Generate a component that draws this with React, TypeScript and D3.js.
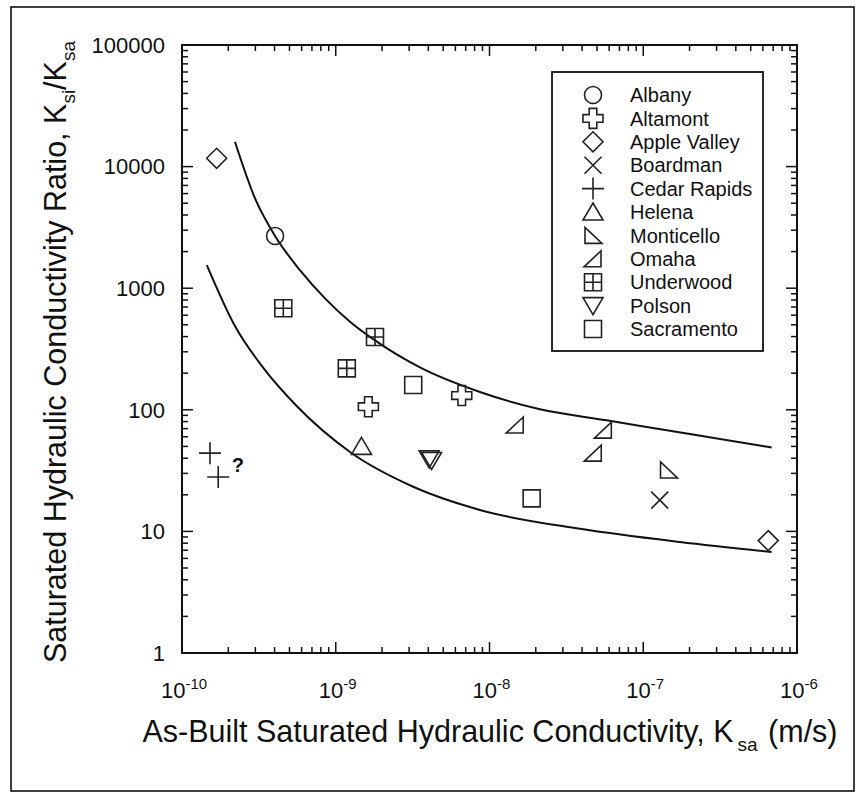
import React, { useEffect, useRef } from "react";
import * as d3 from "d3";

// ---- data ----
const siteNames = ["Albany", "Altamont", "Apple Valley", "Boardman", "Cedar Rapids", "Helena", "Monticello", "Omaha", "Underwood", "Polson", "Sacramento"];
const siteSymbols = ["circle", "fatcross", "diamond", "x", "plus", "triUp", "triRightAngleLeft", "triRightAngleRight", "gridSquare", "triDown", "square"];

const pointSite = ["Albany", "Altamont", "Altamont", "Apple Valley", "Apple Valley", "Boardman", "Cedar Rapids", "Cedar Rapids", "Helena", "Monticello", "Omaha", "Omaha", "Omaha", "Underwood", "Underwood", "Underwood", "Polson", "Polson", "Sacramento", "Sacramento"];
const pointKsa = [4.03e-10, 1.63e-9, 6.6e-9, 1.68e-10, 6.5e-7, 1.28e-7, 1.52e-10, 1.72e-10, 1.47e-9, 1.46e-7, 1.47e-8, 5.5e-8, 4.73e-8, 4.56e-10, 1.8e-9, 1.18e-9, 4.05e-9, 4.2e-9, 3.19e-9, 1.88e-8];
const pointRatio = [2690, 106, 131, 11700, 8.4, 18.1, 44, 28, 50, 32, 75, 68, 44, 684, 397, 219, 39.5, 38.3, 160, 18.7];

const upperKsa = [2.21e-10, 2.99e-10, 4.03e-10, 5.85e-10, 8.51e-10, 1.238e-9, 1.8e-9, 3.53e-9, 8.67e-9, 2.13e-8, 5.78e-8, 2.01e-7, 6.84e-7];
const upperRatio = [16000, 5445, 2690, 1406, 824, 530, 372, 223, 140, 101, 82, 63.2, 49];
const lowerKsa = [1.45e-10, 2.21e-10, 3.38e-10, 5.57e-10, 1.238e-9, 3.19e-9, 8.67e-9, 3.88e-8, 1.73e-7, 6.84e-7];
const lowerRatio = [1550, 489, 221, 107.5, 45, 23.3, 15, 10.5, 8.18, 6.78];

const xTickExp = [-10, -9, -8, -7, -6];
const yTickValues = [1, 10, 100, 1000, 10000, 100000];
const questionMark = { k: 2.31e-10, r: 31, text: "?" };

const W = 865, H = 804;
const L = 182, R = 797, T = 45, B = 653;
const FONT = "Arial, 'Liberation Sans', Helvetica, sans-serif";

function symbolPath(type: string, cx: number, cy: number): string {
  const p = d3.path();
  switch (type) {
    case "circle":
      p.moveTo(cx + 8.5, cy); p.arc(cx, cy, 8.5, 0, Math.PI * 2); break;
    case "fatcross": {
      const a = 10, b = 3.8;
      p.moveTo(cx - b, cy - a); p.lineTo(cx + b, cy - a); p.lineTo(cx + b, cy - b); p.lineTo(cx + a, cy - b);
      p.lineTo(cx + a, cy + b); p.lineTo(cx + b, cy + b); p.lineTo(cx + b, cy + a); p.lineTo(cx - b, cy + a);
      p.lineTo(cx - b, cy + b); p.lineTo(cx - a, cy + b); p.lineTo(cx - a, cy - b); p.lineTo(cx - b, cy - b); p.closePath();
      break;
    }
    case "diamond":
      p.moveTo(cx, cy - 10); p.lineTo(cx + 10, cy); p.lineTo(cx, cy + 10); p.lineTo(cx - 10, cy); p.closePath(); break;
    case "x":
      p.moveTo(cx - 8.5, cy - 8.5); p.lineTo(cx + 8.5, cy + 8.5); p.moveTo(cx + 8.5, cy - 8.5); p.lineTo(cx - 8.5, cy + 8.5); break;
    case "plus":
      p.moveTo(cx - 11, cy); p.lineTo(cx + 11, cy); p.moveTo(cx, cy - 11); p.lineTo(cx, cy + 11); break;
    case "triUp":
      p.moveTo(cx, cy - 9); p.lineTo(cx + 10, cy + 8); p.lineTo(cx - 10, cy + 8); p.closePath(); break;
    case "triDown":
      p.moveTo(cx - 10, cy - 8); p.lineTo(cx + 10, cy - 8); p.lineTo(cx, cy + 9); p.closePath(); break;
    case "triRightAngleLeft":
      p.moveTo(cx - 8, cy - 8); p.lineTo(cx - 8, cy + 8); p.lineTo(cx + 9, cy + 8); p.closePath(); break;
    case "triRightAngleRight":
      p.moveTo(cx + 8, cy - 8); p.lineTo(cx + 8, cy + 8); p.lineTo(cx - 9, cy + 8); p.closePath(); break;
    case "square":
      p.rect(cx - 8.5, cy - 8.5, 17, 17); break;
    case "gridSquare":
      p.rect(cx - 8.5, cy - 8.5, 17, 17);
      p.moveTo(cx, cy - 8.5); p.lineTo(cx, cy + 8.5); p.moveTo(cx - 8.5, cy); p.lineTo(cx + 8.5, cy);
      break;
  }
  return p.toString();
}

export default function App() {
  const ref = useRef<SVGSVGElement>(null);
  useEffect(() => {
    const svg = d3.select(ref.current);
    svg.selectAll("*").remove();
    const x = d3.scaleLog().domain([1e-10, 1e-6]).range([L, R]);
    const y = d3.scaleLog().domain([1, 100000]).range([B, T]);

    svg.append("rect").attr("width", W).attr("height", H).attr("fill", "#fff");
    svg.append("rect").attr("x", 11).attr("y", 7).attr("width", 843).attr("height", 784)
      .attr("fill", "none").attr("stroke", "#000").attr("stroke-width", 1.5);

    const g = svg.append("g");
    // ticks
    const tickG = g.append("g").attr("stroke", "#111").attr("stroke-width", 1.5);
    for (let e = -10; e < -6; e++) {
      for (let m = 2; m <= 9; m++) {
        const px = x(m * Math.pow(10, e));
        tickG.append("line").attr("x1", px).attr("x2", px).attr("y1", B).attr("y2", B - 6);
        tickG.append("line").attr("x1", px).attr("x2", px).attr("y1", T).attr("y2", T + 6);
      }
    }
    xTickExp.forEach(e => {
      const px = x(Math.pow(10, e));
      tickG.append("line").attr("x1", px).attr("x2", px).attr("y1", B).attr("y2", B - 11);
      tickG.append("line").attr("x1", px).attr("x2", px).attr("y1", T).attr("y2", T + 11);
    });
    for (let e = 0; e < 5; e++) {
      for (let m = 2; m <= 9; m++) {
        const py = y(m * Math.pow(10, e));
        tickG.append("line").attr("x1", L).attr("x2", L + 6).attr("y1", py).attr("y2", py);
        tickG.append("line").attr("x1", R).attr("x2", R - 6).attr("y1", py).attr("y2", py);
      }
    }
    yTickValues.forEach(v => {
      const py = y(v);
      tickG.append("line").attr("x1", L).attr("x2", L + 11).attr("y1", py).attr("y2", py);
      tickG.append("line").attr("x1", R).attr("x2", R - 11).attr("y1", py).attr("y2", py);
    });
    g.append("rect").attr("x", L).attr("y", T).attr("width", R - L).attr("height", B - T)
      .attr("fill", "none").attr("stroke", "#111").attr("stroke-width", 2);

    // tick labels
    xTickExp.forEach(e => {
      const t = g.append("text").attr("x", x(Math.pow(10, e)) + 2).attr("y", 698)
        .attr("text-anchor", "middle").attr("font-family", FONT).attr("font-size", 22).attr("fill", "#111");
      t.append("tspan").text("10");
      t.append("tspan").attr("font-size", 15).attr("dy", -9).text(String(e));
    });
    yTickValues.forEach(v => {
      g.append("text").attr("x", 165).attr("y", y(v)).attr("dy", "0.35em")
        .attr("text-anchor", "end").attr("font-family", FONT).attr("font-size", 22).attr("fill", "#111").text(String(v));
    });

    // axis titles
    const xt = g.append("text").attr("x", 490).attr("y", 742).attr("text-anchor", "middle")
      .attr("font-family", FONT).attr("font-size", 30.5).attr("fill", "#111");
    xt.append("tspan").text("As-Built Saturated Hydraulic Conductivity, K");
    xt.append("tspan").attr("font-size", 19).attr("dx", 4).attr("dy", 9).text("sa");
    xt.append("tspan").attr("dx", 2).attr("dy", -9).text(" (m/s)");

    const yt = g.append("text").attr("transform", `translate(66,352) rotate(-90)`)
      .attr("text-anchor", "middle").attr("font-family", FONT).attr("font-size", 30.5).attr("fill", "#111");
    yt.append("tspan").text("Saturated Hydraulic Conductivity Ratio, K");
    yt.append("tspan").attr("font-size", 19).attr("dy", 9).text("si");
    yt.append("tspan").attr("dy", -9).text("/K");
    yt.append("tspan").attr("font-size", 19).attr("dy", 9).text("sa");

    // curves
    const line = d3.line<[number, number]>().x(d => x(d[0])).y(d => y(d[1])).curve(d3.curveMonotoneX);
    g.append("path").attr("d", line(upperKsa.map((k, i) => [k, upperRatio[i]]))!)
      .attr("fill", "none").attr("stroke", "#111").attr("stroke-width", 2);
    g.append("path").attr("d", line(lowerKsa.map((k, i) => [k, lowerRatio[i]]))!)
      .attr("fill", "none").attr("stroke", "#111").attr("stroke-width", 2);

    // points
    pointSite.forEach((s, i) => {
      const sym = siteSymbols[siteNames.indexOf(s)];
      g.append("path").attr("d", symbolPath(sym, x(pointKsa[i]), y(pointRatio[i])))
        .attr("fill", "none").attr("stroke", "#222").attr("stroke-width", 1.6);
    });
    g.append("text").attr("x", x(questionMark.k)).attr("y", y(questionMark.r)).attr("text-anchor", "middle")
      .attr("font-family", FONT).attr("font-size", 20).attr("font-weight", "bold").attr("fill", "#111").text(questionMark.text);

    // legend
    const lg = g.append("g");
    lg.append("rect").attr("x", 552).attr("y", 72).attr("width", 211).attr("height", 279)
      .attr("fill", "#fff").attr("stroke", "#111").attr("stroke-width", 1.8);
    siteNames.forEach((s, i) => {
      const cy = 95 + i * 23.4;
      lg.append("path").attr("d", symbolPath(siteSymbols[i], 593, cy))
        .attr("fill", "none").attr("stroke", "#222").attr("stroke-width", 1.6);
      lg.append("text").attr("x", 630).attr("y", cy).attr("dy", "0.36em").attr("font-family", FONT)
        .attr("font-size", 20).attr("fill", "#111").text(s);
    });
  }, []);
  return <svg ref={ref} width={W} height={H} style={{ position: "absolute", left: 0, top: 0, background: "#fff" }} />;
}
